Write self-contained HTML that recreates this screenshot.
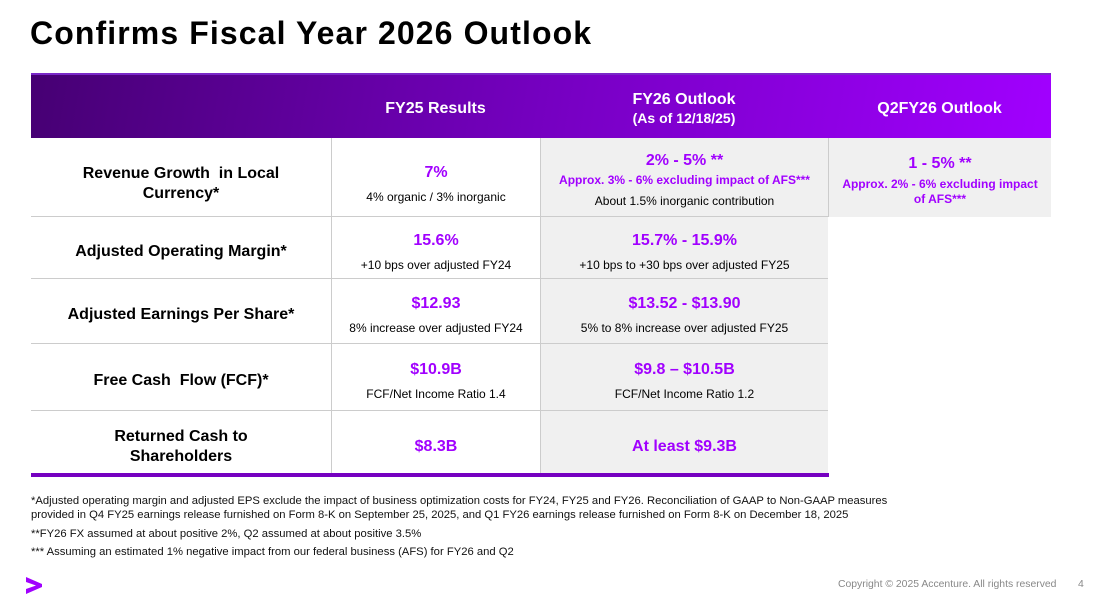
<!DOCTYPE html>
<html><head><meta charset="utf-8"><style>
*{margin:0;padding:0;box-sizing:border-box}
body{width:1106px;height:607px;background:#fff;position:relative;overflow:hidden;font-family:"Liberation Sans",sans-serif;color:#000}
.a{position:absolute}
h1{position:absolute;left:30px;top:15px;font-size:32px;font-weight:bold;letter-spacing:1.1px}
.hdr{position:absolute;left:31px;top:73px;width:1020px;height:65px;background:linear-gradient(100deg,#460073 0%,#7500c0 50%,#a100ff 100%);border-top:2px solid #7a28c8}
.hc{position:absolute;top:0;height:63px;display:flex;flex-direction:column;justify-content:center;align-items:center;color:#fff;font-weight:bold;font-size:16px;text-align:center;line-height:19px;padding-top:4px}
.cell{position:absolute;display:flex;flex-direction:column;justify-content:center;align-items:center;text-align:center;border-bottom:1px solid #ccc;padding-top:8px}
.lab{font-weight:bold;font-size:16px;line-height:20px}
.big{color:#a100ff;font-weight:bold;font-size:16px;line-height:20px;margin-bottom:6px}
.sm{font-size:12px;line-height:16px}
.pm{color:#a100ff;font-weight:bold;font-size:12px;line-height:15px}
.g{background:#f0f0f0}
.foot{position:absolute;left:31px;font-size:11.25px;line-height:14px;color:#111}
</style></head><body>
<h1>Confirms Fiscal Year 2026 Outlook</h1>
<div class="hdr">
<div class="hc" style="left:300px;width:209px">FY25 Results</div>
<div class="hc" style="left:509px;width:288px">FY26 Outlook<br><span style="font-size:14px">(As of 12/18/25)</span></div>
<div class="hc" style="left:797px;width:223px">Q2FY26 Outlook</div>
</div>
<div class="a g" style="left:540px;top:138px;width:288px;height:337px"></div>
<div class="a g" style="left:829px;top:138px;width:222px;height:79px"></div>
<div class="a" style="left:331px;top:138px;width:1px;height:337px;background:#ccc"></div>
<div class="a" style="left:540px;top:138px;width:1px;height:337px;background:#ccc"></div>
<div class="a" style="left:828px;top:138px;width:1px;height:79px;background:#ccc"></div>

<div class="cell lab" style="left:31px;top:138px;width:300px;height:79px;padding-top:14px">Revenue Growth&nbsp; in Local<br>Currency*</div>
<div class="cell" style="left:332px;top:138px;width:208px;height:79px;padding-top:14px"><div class="big">7%</div><div class="sm">4% organic / 3% inorganic</div></div>
<div class="cell" style="left:541px;top:138px;width:287px;height:79px;padding-top:6px"><div class="big" style="margin-bottom:2px">2% - 5% **</div><div class="pm" style="margin-bottom:5px">Approx. 3% - 6% excluding impact of AFS***</div><div class="sm">About 1.5% inorganic contribution</div></div>
<div class="a" style="left:829px;top:138px;width:222px;height:79px;display:flex;flex-direction:column;justify-content:center;align-items:center;text-align:center;padding-top:6px"><div class="big" style="margin-bottom:3px">1 - 5% **</div><div class="pm">Approx. 2% - 6% excluding impact<br>of AFS***</div></div>

<div class="cell lab" style="left:31px;top:217px;width:300px;height:62px">Adjusted Operating Margin*</div>
<div class="cell" style="left:332px;top:217px;width:208px;height:62px"><div class="big">15.6%</div><div class="sm">+10 bps over adjusted FY24</div></div>
<div class="cell" style="left:541px;top:217px;width:287px;height:62px"><div class="big">15.7% - 15.9%</div><div class="sm">+10 bps to +30 bps over adjusted FY25</div></div>

<div class="cell lab" style="left:31px;top:279px;width:300px;height:65px">Adjusted Earnings Per Share*</div>
<div class="cell" style="left:332px;top:279px;width:208px;height:65px"><div class="big">$12.93</div><div class="sm">8% increase over adjusted FY24</div></div>
<div class="cell" style="left:541px;top:279px;width:287px;height:65px"><div class="big">$13.52 - $13.90</div><div class="sm">5% to 8% increase over adjusted FY25</div></div>

<div class="cell lab" style="left:31px;top:344px;width:300px;height:67px">Free Cash&nbsp; Flow (FCF)*</div>
<div class="cell" style="left:332px;top:344px;width:208px;height:67px"><div class="big">$10.9B</div><div class="sm">FCF/Net Income Ratio 1.4</div></div>
<div class="cell" style="left:541px;top:344px;width:287px;height:67px"><div class="big">$9.8 – $10.5B</div><div class="sm">FCF/Net Income Ratio 1.2</div></div>

<div class="cell lab" style="left:31px;top:411px;width:300px;height:63px;border:0">Returned Cash to<br>Shareholders</div>
<div class="cell" style="left:332px;top:411px;width:208px;height:63px;border:0"><div class="big" style="margin:0">$8.3B</div></div>
<div class="cell" style="left:541px;top:411px;width:287px;height:63px;border:0"><div class="big" style="margin:0">At least $9.3B</div></div>
<div class="a" style="left:31px;top:473px;width:798px;height:4px;background:#7500c0"></div>

<div class="foot" style="top:494px">*Adjusted operating margin and adjusted EPS exclude the impact of business optimization costs for FY24, FY25 and FY26. Reconciliation of GAAP to Non-GAAP measures<br>provided in Q4 FY25 earnings release furnished on Form 8-K on September 25, 2025, and Q1 FY26 earnings release furnished on Form 8-K on December 18, 2025</div>
<div class="foot" style="top:527px">**FY26 FX assumed at about positive 2%, Q2 assumed at about positive 3.5%</div>
<div class="foot" style="top:545px">*** Assuming an estimated 1% negative impact from our federal business (AFS) for FY26 and Q2</div>
<svg class="a" style="left:24px;top:575px" width="20" height="20"><polygon points="2,2 18,9 18,12 2,19 2,14 12,10.5 2,7" fill="#a100ff"/></svg>
<div class="a" style="left:838px;top:579px;font-size:10.4px;color:#888">Copyright © 2025 Accenture. All rights reserved</div>
<div class="a" style="left:1078px;top:579px;font-size:10.4px;color:#888">4</div>
</body></html>
